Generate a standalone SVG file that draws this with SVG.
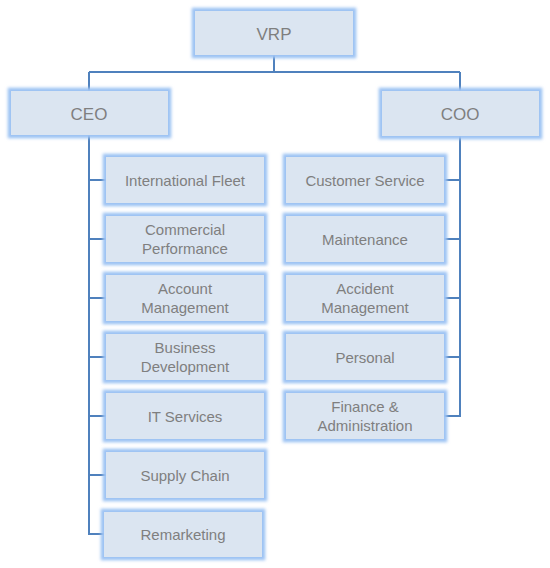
<svg xmlns="http://www.w3.org/2000/svg" width="550" height="568" viewBox="0 0 550 568">
<defs>
<filter id="glow" x="-10%" y="-25%" width="120%" height="150%">
<feGaussianBlur stdDeviation="1.6"/>
</filter>
<style>
.halo{fill:none;stroke:#9cc2f3;stroke-width:6.5;filter:url(#glow)}
.box{fill:#dbe5f1}
.t{font-family:"Liberation Sans",Arial,sans-serif;font-size:15px;fill:#7f7f7f;text-anchor:middle}
.big{font-size:17px}
.c{fill:none;stroke:#4f81bd;stroke-width:2}
</style>
</defs>
<rect width="550" height="568" fill="#ffffff"/>
<g id="connectors">
<path class="c" d="M274 55V72M89 72H460M89 72V91M460 72V91"/>
<path class="c" d="M89 135V535M89 180H106M89 239H106M89 298H106M89 357H106M89 416H106M89 475H106M89 534H104"/>
<path class="c" d="M460 136V417M444 180H460M444 239H460M444 298H460M444 357H460M444 416H460"/>
</g>
<g id="vrp"><rect class="halo" x="195" y="11" width="158" height="44"/><rect class="box" x="195" y="11" width="158" height="44"/><text class="t big" x="274" y="40">VRP</text></g>
<g id="ceo"><rect class="halo" x="11" y="91" width="157" height="44"/><rect class="box" x="11" y="91" width="157" height="44"/><text class="t big" x="89" y="120">CEO</text></g>
<g id="coo"><rect class="halo" x="382" y="91" width="157" height="45"/><rect class="box" x="382" y="91" width="157" height="45"/><text class="t big" x="460" y="120">COO</text></g>

<g id="international-fleet"><rect class="halo" x="106" y="157" width="158" height="46"/><rect class="box" x="106" y="157" width="158" height="46"/><text class="t" x="185" y="186">International Fleet</text></g>
<g id="commercial-performance"><rect class="halo" x="106" y="216" width="158" height="46"/><rect class="box" x="106" y="216" width="158" height="46"/><text class="t" x="185" y="235">Commercial</text><text class="t" x="185" y="254">Performance</text></g>
<g id="account-management"><rect class="halo" x="106" y="275" width="158" height="46"/><rect class="box" x="106" y="275" width="158" height="46"/><text class="t" x="185" y="294">Account</text><text class="t" x="185" y="313">Management</text></g>
<g id="business-development"><rect class="halo" x="106" y="334" width="158" height="46"/><rect class="box" x="106" y="334" width="158" height="46"/><text class="t" x="185" y="353">Business</text><text class="t" x="185" y="372">Development</text></g>
<g id="it-services"><rect class="halo" x="106" y="393" width="158" height="46"/><rect class="box" x="106" y="393" width="158" height="46"/><text class="t" x="185" y="422">IT Services</text></g>
<g id="supply-chain"><rect class="halo" x="106" y="452" width="158" height="46"/><rect class="box" x="106" y="452" width="158" height="46"/><text class="t" x="185" y="481">Supply Chain</text></g>
<g id="remarketing"><rect class="halo" x="104" y="512" width="158" height="45"/><rect class="box" x="104" y="512" width="158" height="45"/><text class="t" x="183" y="540">Remarketing</text></g>

<g id="customer-service"><rect class="halo" x="286" y="157" width="158" height="46"/><rect class="box" x="286" y="157" width="158" height="46"/><text class="t" x="365" y="186">Customer Service</text></g>
<g id="maintenance"><rect class="halo" x="286" y="216" width="158" height="46"/><rect class="box" x="286" y="216" width="158" height="46"/><text class="t" x="365" y="245">Maintenance</text></g>
<g id="accident-management"><rect class="halo" x="286" y="275" width="158" height="46"/><rect class="box" x="286" y="275" width="158" height="46"/><text class="t" x="365" y="294">Accident</text><text class="t" x="365" y="313">Management</text></g>
<g id="personal"><rect class="halo" x="286" y="334" width="158" height="46"/><rect class="box" x="286" y="334" width="158" height="46"/><text class="t" x="365" y="363">Personal</text></g>
<g id="finance-administration"><rect class="halo" x="286" y="393" width="158" height="46"/><rect class="box" x="286" y="393" width="158" height="46"/><text class="t" x="365" y="412">Finance &amp;</text><text class="t" x="365" y="431">Administration</text></g>
</svg>
